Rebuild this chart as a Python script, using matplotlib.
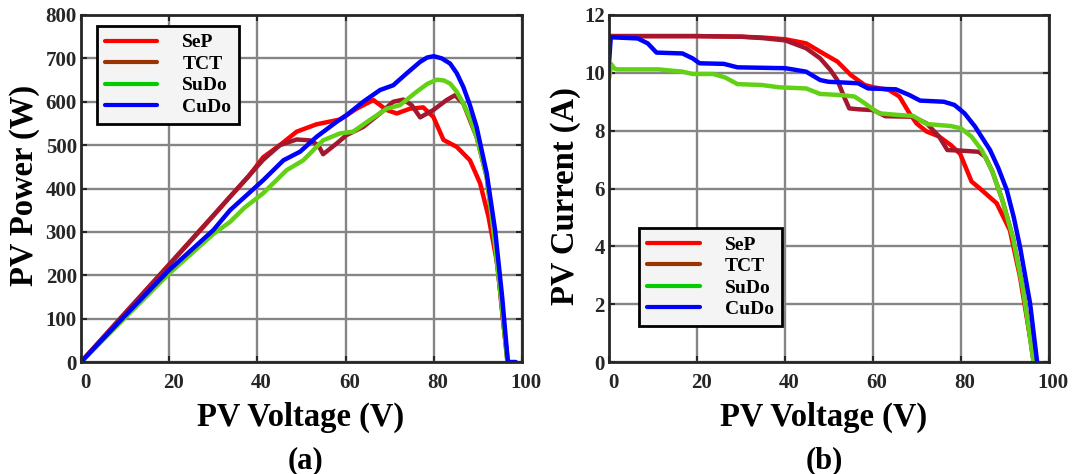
import numpy as np
import matplotlib
matplotlib.use('Agg')
import matplotlib.pyplot as plt
from matplotlib.transforms import ScaledTranslation

plt.rcParams['font.family'] = ['Liberation Serif', 'DejaVu Serif']
plt.rcParams['font.weight'] = 'bold'
plt.rcParams['axes.labelweight'] = 'bold'

names = ['SeP', 'TCT', 'SuDo', 'CuDo']
curve_colors = ['#ff0000', '#a3182f', '#62d115', '#0000ff']
legend_colors = ['#ff0000', '#993300', '#00cc00', '#0000ff']

# P-V curves (a)
sep_pv_v = [0, 10, 20, 30, 33.8, 38, 41.3, 45.1, 48.9, 53.4, 58.7, 62.5, 66.3, 69.3, 71.6, 74.6, 77.6, 79.9, 82.2, 85.2, 88.2, 90.5, 92.4, 94.5, 95.6, 96.8]
sep_pv_p = [0, 112, 224, 337, 381, 428, 472, 500, 531, 548, 559, 584, 604, 581, 573, 584, 587, 565, 512, 496, 465, 412, 335, 220, 104, 0]
tct_pv_v = [0, 10, 20, 30, 33.8, 41.3, 45.1, 48.9, 51.9, 53.8, 54.9, 58, 60.2, 64, 67.8, 70.8, 73.1, 75, 76.9, 79.9, 82.9, 84.8, 86.7, 89.7, 92, 93.5, 95.2, 96.7]
tct_pv_p = [0, 113, 225, 338, 381, 466, 500, 513, 511, 500, 479, 504, 523, 542, 573, 600, 605, 592, 564, 581, 604, 615, 596, 519, 427, 304, 150, 0]
sudo_pv_v = [0, 10, 20, 30, 33.8, 37, 41.3, 46.6, 50.4, 54.9, 58.7, 61.7, 65.5, 69.3, 72.3, 76.1, 78.5, 80.7, 82.3, 83.7, 85.2, 86.7, 88.2, 89.7, 92, 93.5, 95.2, 96.7]
sudo_pv_p = [0, 102, 204, 295, 323, 355, 389, 442, 465, 511, 527, 531, 558, 584, 592, 623, 641, 651, 649, 642, 623, 596, 562, 519, 427, 304, 150, 0]
cudo_pv_v = [0, 10, 20, 30, 33.8, 41.3, 45.9, 49.7, 53.4, 58, 60.2, 64, 67.8, 70.8, 73.8, 76.9, 78.5, 80, 81.8, 83.7, 85.2, 86.7, 88.2, 89.7, 92, 93.9, 95.5, 96.8, 98.6]
cudo_pv_p = [0, 107, 212, 304, 350, 419, 465, 485, 519, 554, 569, 600, 627, 638, 665, 692, 702, 705, 700, 688, 666, 634, 592, 542, 435, 304, 150, 0, 0]

# I-V curves (b)
sep_iv_v = [0, 20, 30, 35, 40.1, 44.8, 48.7, 51.9, 55, 58.1, 60.1, 63.6, 66, 68.3, 69.9, 72.2, 75, 77.7, 79.8, 82.4, 84.3, 88.1, 91.1, 93.4, 95.3, 96.8]
sep_iv_i = [11.27, 11.27, 11.25, 11.22, 11.16, 11.02, 10.67, 10.39, 9.92, 9.58, 9.5, 9.41, 9.18, 8.6, 8.25, 7.97, 7.8, 7.5, 7.2, 6.24, 6.0, 5.49, 4.56, 2.95, 1.22, 0]
tct_iv_v = [0, 20, 30, 35, 40.1, 44.8, 48, 50.3, 51.9, 53.4, 54.6, 56.6, 60.1, 62.8, 69.1, 72.2, 75, 76.9, 80, 84, 85.5, 87.1, 89.4, 91.8, 94.1, 96.5]
tct_iv_i = [11.27, 11.27, 11.25, 11.2, 11.12, 10.85, 10.5, 10.1, 9.75, 9.18, 8.77, 8.74, 8.71, 8.5, 8.48, 8.25, 7.8, 7.33, 7.31, 7.27, 7.1, 6.6, 5.6, 4.3, 2.5, 0]
sudo_iv_v = [0, 0.5, 1.2, 1.8, 11.2, 16.7, 19, 23.7, 26.4, 29.2, 34.7, 38.6, 44.8, 48, 52.7, 55.8, 58.1, 61.3, 66, 69.1, 72.2, 77.7, 80, 82.4, 84.7, 87.1, 89.4, 91.8, 94.1, 96.5]
sudo_iv_i = [9.8, 10.3, 10.15, 10.12, 10.12, 10.04, 9.96, 9.96, 9.84, 9.61, 9.58, 9.5, 9.46, 9.27, 9.23, 9.18, 8.95, 8.6, 8.54, 8.51, 8.23, 8.16, 8.08, 7.79, 7.33, 6.6, 5.6, 4.3, 2.5, 0]
cudo_iv_v = [0, 0.4, 6.5, 8.8, 10.8, 16.7, 19, 20.6, 26.1, 29.2, 40.1, 44.8, 48, 49.9, 56.6, 58.9, 65.2, 68.3, 70.7, 76.1, 78.5, 80.8, 83.2, 86.6, 88.5, 90.4, 92, 93.4, 95.7, 97.3]
cudo_iv_i = [10.33, 11.23, 11.19, 11.02, 10.7, 10.67, 10.5, 10.33, 10.31, 10.19, 10.16, 10.04, 9.75, 9.69, 9.64, 9.46, 9.43, 9.23, 9.04, 9.0, 8.89, 8.6, 8.14, 7.33, 6.7, 5.95, 5.0, 3.99, 2.03, 0]

pv = [(sep_pv_v, sep_pv_p), (tct_pv_v, tct_pv_p), (sudo_pv_v, sudo_pv_p), (cudo_pv_v, cudo_pv_p)]
iv = [(sep_iv_v, sep_iv_i), (tct_iv_v, tct_iv_i), (sudo_iv_v, sudo_iv_i), (cudo_iv_v, cudo_iv_i)]

fig = plt.figure(figsize=(10.77, 4.74), dpi=100)
ax1 = fig.add_axes([81/1077, 112/474, 441/1077, 347/474])
ax2 = fig.add_axes([609/1077, 112/474, 440/1077, 347/474])


def style(ax, ylim, ystep):
    ax.set_xlim(0, 100)
    ax.set_ylim(0, ylim)
    ax.set_xticks(np.arange(0, 101, 20))
    ax.set_yticks(np.arange(0, ylim + 0.1, ystep))
    ax.grid(True, color='#858585', lw=1.7)
    ax.set_axisbelow(True)
    for s in ax.spines.values():
        s.set_linewidth(2)
        s.set_color('#262626')
    ax.tick_params(direction='in', top=True, right=True, length=4, width=1.5,
                   color='#262626', labelsize=15, labelcolor='#262626')
    ax.tick_params(axis='x', pad=8)
    ax.tick_params(axis='y', pad=3)
    off = ScaledTranslation(4/100, 0, fig.dpi_scale_trans)
    for lab in ax.get_xticklabels():
        lab.set_transform(lab.get_transform() + off)


for ax, data in [(ax1, pv), (ax2, iv)]:
    for (x, y), c, n in zip(data, curve_colors, names):
        ax.plot(x, y, color=c, lw=3.2, label=n, solid_capstyle='round',
                solid_joinstyle='round')

style(ax1, 800, 100)
style(ax2, 12, 2)

ax1.set_xlabel('PV Voltage (V)', fontsize=23.5, va='center')
ax1.xaxis.set_label_coords(0.497, -0.161)
ax1.set_ylabel('PV Power (W)', fontsize=23.5, va='center')
ax1.yaxis.set_label_coords(-0.129, 0.509)
ax2.set_xlabel('PV Voltage (V)', fontsize=23.5, va='center')
ax2.xaxis.set_label_coords(0.488, -0.161)
ax2.set_ylabel('PV Current (A)', fontsize=23.5, va='center')
ax2.yaxis.set_label_coords(-0.099, 0.478)

ax1.text(0.508, -0.285, '(a)', transform=ax1.transAxes, ha='center', va='center', fontsize=22)
ax2.text(0.49, -0.285, '(b)', transform=ax2.transAxes, ha='center', va='center', fontsize=22)

for ax, anchor in [(ax1, (0.036, 0.968)), (ax2, (0.069, 0.385))]:
    leg = ax.legend(loc='upper left', bbox_to_anchor=anchor, fontsize=14,
                    handlelength=2.7, handletextpad=1.3, labelspacing=0.2,
                    borderpad=0.4, fancybox=False, framealpha=1,
                    facecolor='#f4f4f4', edgecolor='black', borderaxespad=0)
    leg.get_frame().set_linewidth(2)
    for h, c in zip(leg.legend_handles, legend_colors):
        h.set_color(c)
        h.set_linewidth(3)

fig.savefig('out.png', dpi=100)
